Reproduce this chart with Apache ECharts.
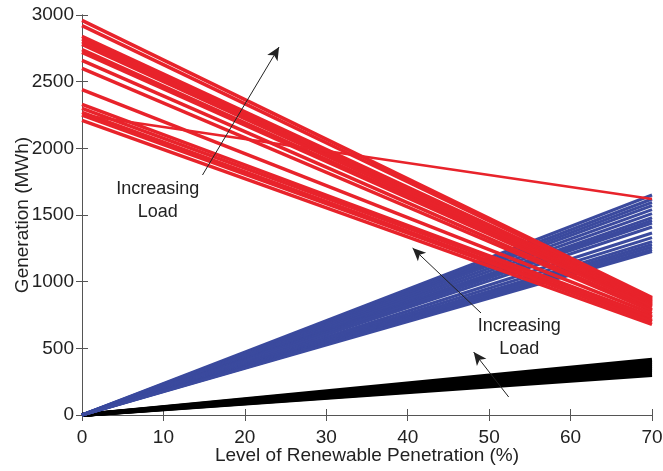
<!DOCTYPE html>
<html>
<head>
<meta charset="utf-8">
<script src="https://cdn.jsdelivr.net/npm/echarts@6/dist/echarts.min.js"></script>
<style>
  html, body { margin: 0; padding: 0; background: #fff; }
  #chart { width: 663px; height: 471px; }
</style>
</head>
<body>
<div id="chart"></div>
<script>
// x range of every line (renewable penetration %)
const xStart = 0;
const xEnd = 70;

// red: generation from conventional units, start value at 0% and end at 70%
const redStart = [2960, 2920, 2840, 2820, 2800, 2780, 2740, 2720, 2660, 2600, 2440, 2330, 2300, 2270, 2250, 2210];
const redEnd   = [ 880,  870,  860,  850,  840,  830,  820,  810,  790,  780,  760,  740,  730,  710,  700,  680];
// the one red line that flattens out
const redOddStart = 2250;
const redOddEnd = 1620;

// blue: lines from origin, end value at 70%
const blueEnd = [1650, 1620, 1595, 1570, 1540, 1510, 1480, 1460, 1440, 1410, 1365, 1330, 1300, 1280, 1260, 1240, 1225];
// black: lines from origin, end value at 70%
const blackEnd = [415, 400, 385, 370, 355, 340, 325, 310, 300];

// annotation arrows [fromX, fromY, toX, toY] in data units
const arrows = [
  [14.8, 1800, 24.2, 2760],
  [49.0, 765, 40.6, 1252],
  [52.4, 135, 48.1, 472]
];
// annotation texts [x, y, text]
const notes = [
  [9.3, 1610, 'Increasing\nLoad'],
  [53.7, 580, 'Increasing\nLoad']
];

const RED = '#e8232b';
const BLUE = '#3b4a9e';

const chart = echarts.init(document.getElementById('chart'));

function lineSeries(y0, y1, color, width) {
  return {
    type: 'line',
    data: [[xStart, y0], [xEnd, y1]],
    symbol: 'none',
    silent: true,
    animation: false,
    lineStyle: { color: color, width: width },
    xAxisIndex: 0,
    yAxisIndex: 0
  };
}

const series = [];
blackEnd.forEach(v => series.push(lineSeries(0, v, '#000', 4)));
blueEnd.forEach(v => series.push(lineSeries(0, v, BLUE, 3)));
redStart.forEach((v, i) => series.push(lineSeries(v, redEnd[i], RED, 3.5)));
series.push(lineSeries(redOddStart, redOddEnd, RED, 2.5));

// arrows
series.push({
  type: 'line',
  data: [],
  xAxisIndex: 0,
  yAxisIndex: 0,
  animation: false,
  markLine: {
    silent: true,
    animation: false,
    symbol: ['none', 'arrow'],
    symbolSize: [9, 13],
    label: { show: false },
    lineStyle: { color: '#222', width: 1, type: 'solid' },
    data: arrows.map(a => [{ coord: [a[0], a[1]] }, { coord: [a[2], a[3]] }])
  }
});

const axisFont = { fontFamily: 'Liberation Sans, Arial, sans-serif', fontSize: 19, color: '#222' };
const frameLine = { show: true, lineStyle: { color: '#555', width: 1 } };
const tick = { show: true, inside: true, length: 6, lineStyle: { color: '#555' } };

chart.setOption({
  animation: false,
  grid: { left: 82, right: 11, top: 15, bottom: 56, outerBoundsMode: 'none', containLabel: false },
  xAxis: [{
    type: 'value', min: 0, max: 70, interval: 10,
    name: 'Level of Renewable Penetration (%)',
    nameLocation: 'middle', nameGap: 31, nameMoveOverlap: false,
    nameTextStyle: axisFont,
    axisLine: frameLine,
    axisTick: tick,
    axisLabel: Object.assign({ margin: 13, formatter: v => String(v) }, axisFont),
    splitLine: { show: false }
  }, {
    type: 'value', min: 0, max: 70, interval: 10, position: 'top',
    axisLine: frameLine,
    axisTick: tick,
    axisLabel: { show: false },
    splitLine: { show: false }
  }],
  yAxis: [{
    type: 'value', min: 0, max: 3000, interval: 500,
    name: 'Generation (MWh)',
    nameLocation: 'middle', nameGap: 50, nameMoveOverlap: false,
    nameTextStyle: axisFont,
    axisLine: frameLine,
    axisTick: tick,
    axisLabel: Object.assign({ margin: 8, formatter: v => String(v) }, axisFont),
    splitLine: { show: false }
  }, {
    type: 'value', min: 0, max: 3000, interval: 500, position: 'right',
    axisLine: frameLine,
    axisTick: tick,
    axisLabel: { show: false },
    splitLine: { show: false }
  }],
  series: series
});

// place annotation texts through the axes' scales
chart.setOption({
  graphic: notes.map(n => {
    const p = chart.convertToPixel({ xAxisIndex: 0, yAxisIndex: 0 }, [n[0], n[1]]);
    return {
      type: 'text',
      x: p[0], y: p[1],
      silent: true,
      style: {
        text: n[2],
        fill: '#222',
        font: '18px "Liberation Sans", Arial, sans-serif',
        align: 'center',
        verticalAlign: 'middle',
        lineHeight: 23
      }
    };
  })
});
</script>
</body>
</html>
